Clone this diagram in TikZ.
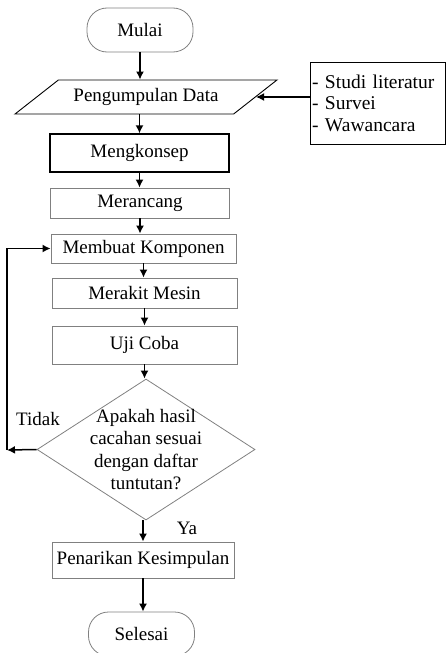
\documentclass[tikz,border=0pt]{standalone}
\usepackage{fontspec}
\setmainfont{Liberation Serif}
\usetikzlibrary{arrows.meta,positioning,shapes.geometric}
\definecolor{BoxGray}{HTML}{808080}

\begin{document}
\begin{tikzpicture}[
  x=1pt, y=-1pt,
  font=\fontsize{19}{22.5}\selectfont,
  >={Latex[length=8pt,width=8pt]},
  % start / end terminal
  term/.style={draw=BoxGray, line width=0.8pt, rounded corners=20pt,
               minimum width=106pt, minimum height=44pt},
  % process box
  proc/.style={draw=BoxGray, line width=0.8pt, inner sep=2pt},
  % data input (parallelogram)
  io/.style={trapezium, trapezium left angle=30, trapezium right angle=150,
             trapezium stretches=true, draw=black, line width=0.9pt,
             minimum width=262pt, minimum height=34pt, inner sep=2pt},
  % decision
  decide/.style={diamond, aspect=1.546, draw=BoxGray, line width=0.8pt,
                 minimum width=218pt, minimum height=141pt,
                 inner sep=-16pt, align=center},
  % data source list
  note/.style={draw=black, line width=0.9pt, align=left,
               text width=131pt, inner xsep=2pt, minimum height=82pt,
               font=\fontsize{19.5}{21.5}\selectfont},
  arr/.style={->, line width=1.5pt},
]

\useasboundingbox (0,0) rectangle (446,653);

%% -- flow nodes --------------------------------------------------------
\node[term] (mulai) at (140,30) {Mulai};
\node[io] (data) at (146,97) {Pengumpulan Data};
\node[note] (sumber) at (377.5,103) {- Studi literatur\\- Survei\\- Wawancara};
\node[proc, draw=black, line width=1.3pt, minimum width=179pt, minimum height=38pt]
  (konsep) at (139.5,153) {Mengkonsep};
\node[proc, minimum width=179pt, minimum height=30pt] (rancang) at (140,203) {Merancang};
\node[proc, minimum width=185pt, minimum height=29pt] (komp) at (143.5,248.5) {Membuat Komponen};
\node[proc, minimum width=185pt, minimum height=30pt] (rakit) at (144.5,293) {Merakit Mesin};
\node[proc, minimum width=185pt, minimum height=38pt] (uji) at (144.5,345) {Uji Coba};
\node[decide] (cek) at (146,449.5)
  {Apakah hasil\\cacahan sesuai\\dengan daftar\\tuntutan?};
\node[proc, minimum width=182pt, minimum height=36pt] (tarik) at (143,560) {Penarikan Kesimpulan};
\node[term] (selesai) at (141.5,634) {Selesai};

%% -- labels -------------------------------------------------------------
\node (tidak) at (38,419) {Tidak};
\node (ya) at (187,528) {Ya};

%% -- main arrows --------------------------------------------------------
\foreach \a/\b in {mulai/data,konsep/rancang,rancang/komp,komp/rakit,rakit/uji,uji/cek,tarik/selesai}
  \draw[arr] (\a.south) -- (\a.south |- \b.north);
\draw[arr] (konsep.north |- data.south) -- (konsep.north);
\draw[arr] (cek.south) ++(-3,0) -- (tarik.north);
\draw[arr] (data.east -| sumber.west) -- (data.east);

%% -- loop back ----------------------------------------------------------
\coordinate (balik) at (7,450);
\draw[arr] (cek.west) -- (balik);
\draw[arr] (balik) |- (komp.west);

\end{tikzpicture}
\end{document}
